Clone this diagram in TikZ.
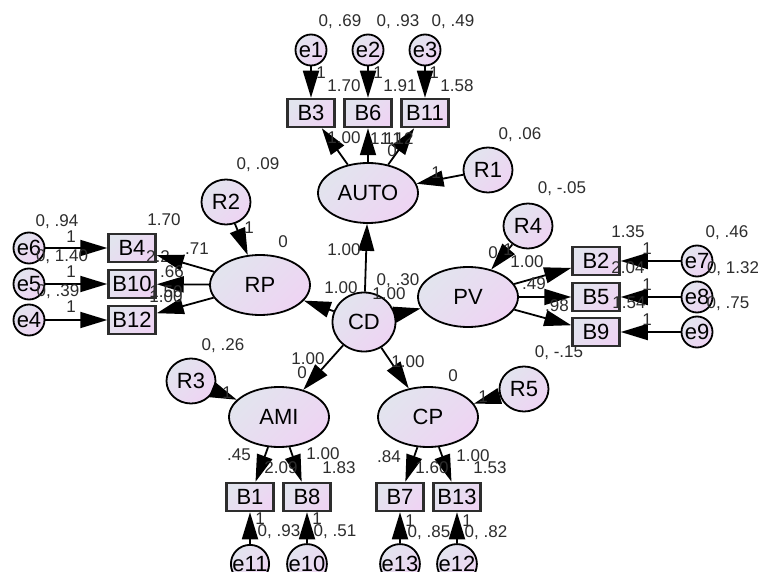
\documentclass[tikz,border=0pt]{standalone}
\usepackage{fontspec}
\setmainfont{Liberation Sans}
\usetikzlibrary{shapes.geometric,arrows.meta}
\definecolor{lavA}{RGB}{226,228,238}
\definecolor{lavB}{RGB}{238,212,243}
\definecolor{txt}{RGB}{45,45,45}
\definecolor{boxline}{RGB}{45,45,45}
\tikzset{
  shadefill/.style={top color=lavA,bottom color=lavB,shading angle=45},
  nodefont/.style={font=\fontsize{22}{22}\selectfont, text=black},
  lat/.style={ellipse, draw=black, line width=1.8pt, shadefill, minimum width=100pt, minimum height=60pt, inner sep=0pt, nodefont},
  cdnode/.style={ellipse, draw=black, line width=1.8pt, shadefill, minimum width=63pt, minimum height=59pt, inner sep=0pt, nodefont},
  res/.style={ellipse, draw=black, line width=1.8pt, shadefill, minimum width=49pt, minimum height=45pt, inner sep=0pt, nodefont},
  err/.style={circle, draw=black, line width=1.8pt, shadefill, minimum size=31pt, inner sep=0pt, nodefont},
  obs/.style={rectangle, draw=boxline, line width=2.5pt, shadefill, minimum width=47pt, minimum height=28pt, inner sep=0pt, nodefont},
  arr/.style={draw=black, line width=1.8pt, -{Triangle[length=27pt,width=16pt]}},
  lab/.style={font=\fontsize{17}{17}\selectfont, text=txt, inner sep=0pt},
}
\begin{document}
\begin{tikzpicture}[x=1pt,y=-1pt]
\useasboundingbox (0,0) rectangle (758,572);
\fill[white] (0,0) rectangle (758,572);
% nodes
\node[err] (e1) at (311,50) {e1};
\node[err] (e2) at (368,50) {e2};
\node[err] (e3) at (425,50) {e3};
\node[obs] (B3) at (311,113) {B3};
\node[obs] (B6) at (368,113) {B6};
\node[obs] (B11) at (425,113) {B11};
\node[lat] (AUTO) at (368,193) {AUTO};
\node[res] (R1) at (488,170) {R1};
\node[res] (R2) at (226,202) {R2};
\node[lat] (RP) at (260,285) {RP};
\node[cdnode] (CD) at (364,322) {CD};
\node[lat] (PV) at (468,297) {PV};
\node[res] (R4) at (528,226) {R4};
\node[obs] (B2) at (596,261) {B2};
\node[obs] (B5) at (596,297) {B5};
\node[obs] (B9) at (596,332) {B9};
\node[err] (e7) at (697,261) {e7};
\node[err] (e8) at (697,297) {e8};
\node[err] (e9) at (697,332) {e9};
\node[obs] (B4) at (132,248) {B4};
\node[obs] (B10) at (132,284) {B10};
\node[obs] (B12) at (132,320) {B12};
\node[err] (e6) at (29,248) {e6};
\node[err] (e5) at (29,284) {e5};
\node[err] (e4) at (29,320) {e4};
\node[res] (R3) at (191,381) {R3};
\node[lat] (AMI) at (279,417) {AMI};
\node[lat] (CP) at (428,417) {CP};
\node[res] (R5) at (524,389) {R5};
\node[obs] (B1) at (250,497) {B1};
\node[obs] (B8) at (307,497) {B8};
\node[obs] (B7) at (400,497) {B7};
\node[obs] (B13) at (457,497) {B13};
\node[err] (e11) at (250,564) {e11};
\node[err] (e10) at (307,564) {e10};
\node[err] (e13) at (400,564) {e13};
\node[err] (e12) at (457,564) {e12};
% labels partly hidden under arrowheads
\node[lab] (l26) at (527,262) {1.00};
\node[lab] (l70) at (158,257) {2.2};
% connectors
\draw[arr] (e1) -- (B3);
\draw[arr] (e2) -- (B6);
\draw[arr] (e3) -- (B11);
\draw[arr] (AUTO) -- (B3);
\draw[arr] (AUTO) -- (B6);
\draw[arr] (AUTO) -- (B11);
\draw[arr] (R1) -- (AUTO);
\draw[arr] (CD) -- (AUTO);
\draw[arr] (R2) -- (RP);
\draw[arr] (RP) -- (B4);
\draw[arr] (RP) -- (B10);
\draw[arr] (RP) -- (B12);
\draw[arr] (e6) -- (B4);
\draw[arr] (e5) -- (B10);
\draw[arr] (e4) -- (B12);
\draw[arr] (CD) -- (RP);
\draw[arr] (CD) -- (PV);
\draw[arr] (R4) -- (PV);
\draw[arr] (PV) -- (B2);
\draw[arr] (PV) -- (B5);
\draw[arr] (PV) -- (B9);
\draw[arr] (e7) -- (B2);
\draw[arr] (e8) -- (B5);
\draw[arr] (e9) -- (B9);
\draw[arr] (CD) -- (AMI);
\draw[arr] (CD) -- (CP);
\draw[arr] (R3) -- (AMI);
\draw[arr] (R5) -- (CP);
\draw[arr] (AMI) -- (B1);
\draw[arr] (AMI) -- (B8);
\draw[arr] (CP) -- (B7);
\draw[arr] (CP) -- (B13);
\draw[arr] (e11) -- (B1);
\draw[arr] (e10) -- (B8);
\draw[arr] (e13) -- (B7);
\draw[arr] (e12) -- (B13);
% labels
\node[lab] (l1) at (340,22) {0, .69};
\node[lab] (l2) at (398,22) {0, .93};
\node[lab] (l3) at (453,22) {0, .49};
\node[lab] (l4) at (321,73) {1};
\node[lab] (l5) at (378,73) {1};
\node[lab] (l6) at (434,73) {1};
\node[lab] (l7) at (344,86) {1.70};
\node[lab] (l8) at (400,86) {1.91};
\node[lab] (l9) at (457,86) {1.58};
\node[lab] (l10) at (344,138) {1.00};
\node[lab] (l11) at (386,139) {1.11};
\node[lab] (l12) at (397,139) {1.12};
\node[lab] (l13) at (392,151) {0};
\node[lab] (l14) at (520,135) {0, .06};
\node[lab] (l15) at (436,173) {1};
\node[lab] (l16) at (562,189) {0, -.05};
\node[lab] (l17) at (258,165) {0, .09};
\node[lab] (l18) at (249,228) {1};
\node[lab] (l19) at (283,242) {0};
\node[lab] (l20) at (344,250) {1.00};
\node[lab] (l21) at (341,288) {1.00};
\node[lab] (l22) at (398,281) {0, .30};
\node[lab] (l23) at (389,294) {1.00};
\node[lab] (l24) at (493,253) {0};
\node[lab] (l25) at (508,250) {1};
\node[lab] (l27) at (534,284) {.49};
\node[lab] (l28) at (557,306) {.98};
\node[lab] (l29) at (628,232) {1.35};
\node[lab] (l30) at (647,249) {1};
\node[lab] (l31) at (628,268) {2.04};
\node[lab] (l32) at (727,233) {0, .46};
\node[lab] (l33) at (733,269) {0, 1.32};
\node[lab] (l34) at (647,285) {1};
\node[lab] (l35) at (629,303) {1.54};
\node[lab] (l36) at (728,304) {0, .75};
\node[lab] (l37) at (647,320) {1};
\node[lab] (l38) at (559,353) {0, -.15};
\node[lab] (l39) at (408,362) {1.00};
\node[lab] (l40) at (453,376) {0};
\node[lab] (l41) at (483,397) {1};
\node[lab] (l42) at (389,457) {.84};
\node[lab] (l43) at (473,456) {1.00};
\node[lab] (l44) at (432,468) {1.60};
\node[lab] (l45) at (490,468) {1.53};
\node[lab] (l46) at (410,521) {1};
\node[lab] (l47) at (429,533) {0, .85};
\node[lab] (l48) at (467,521) {1};
\node[lab] (l49) at (486,533) {0, .82};
\node[lab] (l50) at (223,346) {0, .26};
\node[lab] (l51) at (227,393) {1};
\node[lab] (l52) at (308,359) {1.00};
\node[lab] (l53) at (302,373) {0};
\node[lab] (l54) at (239,455) {.45};
\node[lab] (l55) at (323,454) {1.00};
\node[lab] (l56) at (281,468) {2.09};
\node[lab] (l57) at (339,468) {1.83};
\node[lab] (l58) at (260,519) {1};
\node[lab] (l59) at (279,532) {0, .93};
\node[lab] (l60) at (317,519) {1};
\node[lab] (l61) at (335,532) {0, .51};
\node[lab] (l62) at (57,222) {0, .94};
\node[lab] (l63) at (71,237) {1};
\node[lab] (l64) at (62,257) {0, 1.40};
\node[lab] (l65) at (71,272) {1};
\node[lab] (l66) at (58,292) {0, .39};
\node[lab] (l67) at (71,307) {1};
\node[lab] (l68) at (164,220) {1.70};
\node[lab] (l69) at (197,249) {.71};
\node[lab] (l71) at (172,272) {.66};
\node[lab] (l72) at (166,292) {1.50};
\node[lab] (l73) at (166,297) {1.00};
\end{tikzpicture}
\end{document}
